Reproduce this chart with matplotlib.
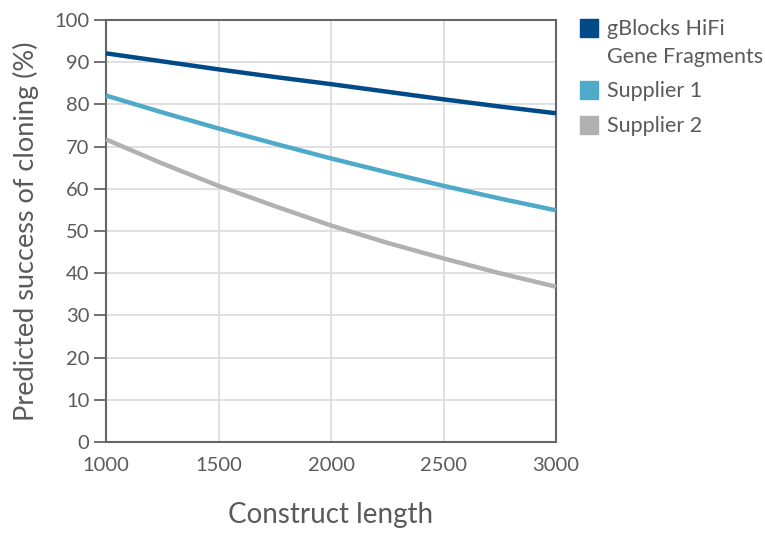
import matplotlib
matplotlib.use("Agg")
import matplotlib.pyplot as plt
from matplotlib.patches import Rectangle

plt.rcParams['font.family'] = ['Lato', 'DejaVu Sans']

lengths = [1000, 1250, 1500, 1750, 2000, 2250, 2500, 2750, 3000]
gblocks = [92.1, 90.2, 88.3, 86.5, 84.8, 83.0, 81.2, 79.5, 77.9]
supplier1 = [82.1, 78.1, 74.3, 70.7, 67.2, 63.9, 60.7, 57.7, 54.9]
supplier2 = [71.7, 66.0, 60.7, 55.9, 51.3, 47.2, 43.5, 40.0, 36.8]
series_names = ["gBlocks HiFi\nGene Fragments", "Supplier 1", "Supplier 2"]
colors = ["#004b87", "#4fa9c9", "#b1b1b1"]
xticks = [1000, 1500, 2000, 2500, 3000]
yticks = list(range(0, 101, 10))

text_color = "#5a5a5a"
spine_color = "#666666"

fig = plt.figure(figsize=(7.65, 5.37), dpi=100)
ax = fig.add_axes([106/765, 1-442/537, 450/765, 422/537])

for vals, c in zip([gblocks, supplier1, supplier2], colors):
    ax.plot(lengths, vals, color=c, lw=3.2, solid_capstyle='butt', zorder=3, clip_on=False)

ax.set_xlim(1000, 3000)
ax.set_ylim(0, 100)
ax.set_xticks(xticks)
ax.set_yticks(yticks)
ax.grid(True, color="#dddddd", lw=1.3, zorder=0)
for s in ax.spines.values():
    s.set_color(spine_color)
    s.set_linewidth(1.5)
ax.tick_params(axis='y', direction='out', length=9, width=1.3, color=spine_color,
               labelsize=14.5, labelcolor=text_color, pad=3)
ax.tick_params(axis='x', length=0, labelsize=14.5, labelcolor=text_color, pad=11)
ax.set_xlabel("Construct length", fontsize=20, color=text_color, labelpad=20)
ax.set_ylabel("Predicted success of cloning (%)", fontsize=19.5, color=text_color, labelpad=11)

# legend
leg_y = [28, 90, 125]
for name, c, y in zip(series_names, colors, leg_y):
    fig.patches.append(Rectangle((580/765, 1-(y+9)/537), 18/765, 18/537,
                                 transform=fig.transFigure, color=c))
    fig.text(607/765, 1-(y-9)/537, name, fontsize=15.5, color=text_color,
             va='top', ha='left', linespacing=1.5)

fig.savefig("out.png", dpi=100)
